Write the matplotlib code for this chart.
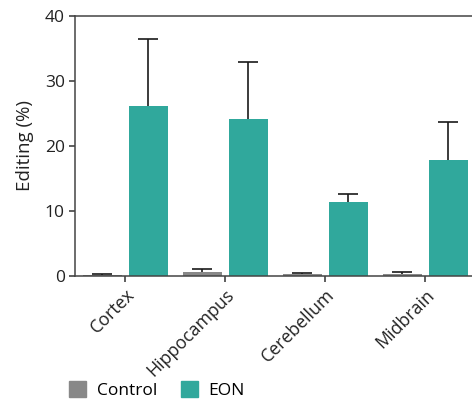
import numpy as np
import matplotlib.pyplot as plt
from matplotlib.patches import Patch

plt.rcParams['font.family'] = ['Open Sans', 'DejaVu Sans']

regions = ['Cortex', 'Hippocampus', 'Cerebellum', 'Midbrain']
control = [0.2, 0.55, 0.25, 0.25]
control_err = [0.1, 0.5, 0.15, 0.3]
eon = [26.1, 24.1, 11.4, 17.8]
eon_err = [10.35, 8.7, 1.15, 5.9]

grey = '#888888'
teal = '#30a89c'

fig = plt.figure(figsize=(4.72, 4.01), dpi=100)
ax = fig.add_axes([75.3 / 472, 125 / 401, 400 / 472, 260.5 / 401])

x = np.arange(len(regions))
w = 0.39
off = 0.23
ax.bar(x - off, control, w, color=grey, zorder=2)
ax.bar(x + off, eon, w, color=teal, zorder=2)
for xs, vals, errs in [(x - off, control, control_err), (x + off, eon, eon_err)]:
    eb = ax.errorbar(xs, vals, yerr=[np.zeros(len(x)), errs], fmt='none',
                     ecolor='#1a1a1a', elinewidth=1.2, capsize=7, capthick=1.2,
                     zorder=3)
    # only the upper cap
    eb[1][0].set_visible(False)

ax.set_xlim(-0.5, 3.5)
ax.set_ylim(0, 40)
ax.set_yticks([0, 10, 20, 30, 40])
ax.set_xticks(x)
ax.set_xticklabels(regions, rotation=45, ha='right', rotation_mode='anchor')
ax.tick_params(axis='both', color='#333333', width=1.1, length=4,
               labelcolor='#222222')
ax.tick_params(axis='x', labelsize=12.8, pad=3)
ax.tick_params(axis='y', labelsize=12.5)
ax.set_ylabel('Editing (%)', fontsize=13.5, color='#222222', labelpad=8)
for s in ax.spines.values():
    s.set_color('#444444')
    s.set_linewidth(1.1)

handles = [Patch(color=grey, label='Control'), Patch(color=teal, label='EON')]
fig.legend(handles=handles, loc='center left', bbox_to_anchor=(0.146, 0.027),
           ncol=2, frameon=False, fontsize=12.5, handlelength=1.0, handleheight=1.0,
           handletextpad=0.6, columnspacing=1.35, borderpad=0, borderaxespad=0)

fig.savefig('out.png', dpi=100)
